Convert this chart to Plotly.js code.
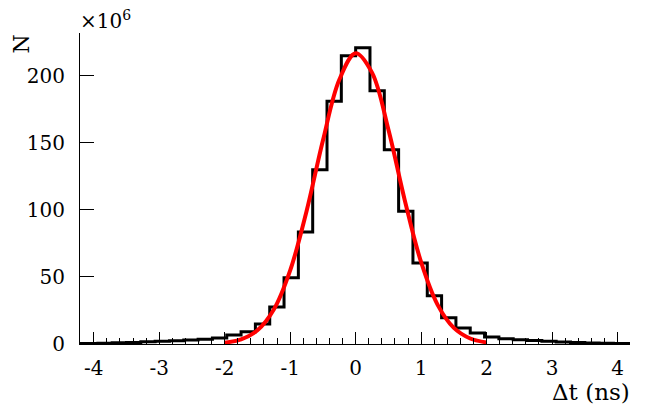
<!DOCTYPE html>
<html>
<head>
<meta charset="utf-8">
<script src="https://cdn.plot.ly/plotly-3.0.1.min.js"></script>
<style>
  html, body { margin: 0; padding: 0; background: #fff; }
  #chart { width: 664px; height: 411px; }
</style>
</head>
<body>
<div id="chart"></div>
<script>
// Histogram: bin centres (ns) and counts (x10^6)
const binCenters = [
  -4.2656, -4.0469, -3.8281, -3.6094, -3.3906, -3.1719, -2.9531, -2.7344,
  -2.5156, -2.2969, -2.0781, -1.8594, -1.6406, -1.4219, -1.2031, -0.9844,
  -0.7656, -0.5469, -0.3281, -0.1094, 0.1094, 0.3281, 0.5469, 0.7656,
  0.9844, 1.2031, 1.4219, 1.6406, 1.8594, 2.0781, 2.2969, 2.5156,
  2.7344, 2.9531, 3.1719, 3.3906, 3.6094, 3.8281, 4.0469, 4.2656
];
const counts = [
  0.3, 0.4, 0.6, 0.9, 1.2, 1.6, 2.0, 2.5,
  3.0, 3.5, 4.5, 6.7, 9.2, 15, 27.6, 49.5,
  83.5, 130, 181, 215, 221, 189, 145, 99,
  60.5, 36, 19.6, 12, 8.2, 5.2, 4.0, 3.2,
  2.6, 2.0, 1.5, 1.1, 0.8, 0.6, 0.4, 0.3
];

const fitX = [-2.0, -1.75, -1.5, -1.25, -1.0, -0.75, -0.5, -0.25, 0.0,
              0.25, 0.5, 0.75, 1.0, 1.25, 1.5, 1.75, 2.0];
const fitY = [1.0, 3.5, 10.2, 25.7, 54.9, 99.1, 151.8, 197.1, 216.9,
              202.4, 160.0, 107.3, 61.0, 29.4, 12.0, 4.1, 1.2];

const yTicks = [0, 50, 100, 150, 200];
const xTicks = [-4, -3, -2, -1, 0, 1, 2, 3, 4];

const serif = 'DejaVu Serif';

const traces = [
  {
    x: binCenters, y: counts, type: 'scatter', mode: 'lines',
    line: { shape: 'hvh', color: '#000000', width: 3 },
    hoverinfo: 'skip', showlegend: false
  },
  {
    x: fitX, y: fitY, type: 'scatter', mode: 'lines',
    line: { shape: 'spline', smoothing: 1, color: '#ff0000', width: 4 },
    hoverinfo: 'skip', showlegend: false
  }
];

const layout = {
  width: 664, height: 411,
  margin: { l: 80, r: 34, t: 33, b: 67 },
  paper_bgcolor: '#ffffff', plot_bgcolor: '#ffffff',
  font: { family: serif, size: 20, color: '#000000' },
  showlegend: false,
  xaxis: {
    range: [-4.21, 4.19],
    tickvals: xTicks, ticktext: xTicks.map(String),
    ticks: 'inside', ticklen: 12, tickwidth: 1, tickcolor: '#000',
    minor: { dtick: 0.2, tick0: 0, ticks: 'inside', ticklen: 6, tickwidth: 1, tickcolor: '#000', showgrid: false },
    showgrid: false, zeroline: false,
    showline: true, linecolor: '#000', linewidth: 1,
    tickfont: { family: serif, size: 20, color: '#000' },
    ticklabelstandoff: 6
  },
  yaxis: {
    range: [0, 232],
    tickvals: yTicks, ticktext: yTicks.map(String),
    ticks: 'inside', ticklen: 14, tickwidth: 1, tickcolor: '#000',
    showgrid: false, zeroline: false,
    showline: true, linecolor: '#000', linewidth: 1,
    tickfont: { family: serif, size: 20, color: '#000' },
    ticklabelstandoff: 10
  },
  annotations: [
    {
      text: '×10<sup>6</sup>', xref: 'paper', yref: 'paper',
      x: 0, y: 1, xanchor: 'left', yanchor: 'bottom', yshift: -2, xshift: -2,
      showarrow: false, font: { family: serif, size: 20, color: '#000' }
    },
    {
      text: 'N', xref: 'paper', yref: 'paper',
      x: 0, y: 1, xanchor: 'center', yanchor: 'top', xshift: -59, yshift: 0,
      textangle: -90, showarrow: false,
      font: { family: serif, size: 22, color: '#000' }
    },
    {
      text: 'Δt (ns)', xref: 'paper', yref: 'paper',
      x: 1, y: 0, xanchor: 'right', yanchor: 'top', yshift: -33, xshift: 2,
      showarrow: false, font: { family: serif, size: 23, color: '#000' }
    }
  ]
};

Plotly.newPlot('chart', traces, layout, { displayModeBar: false, staticPlot: true });
</script>
</body>
</html>
